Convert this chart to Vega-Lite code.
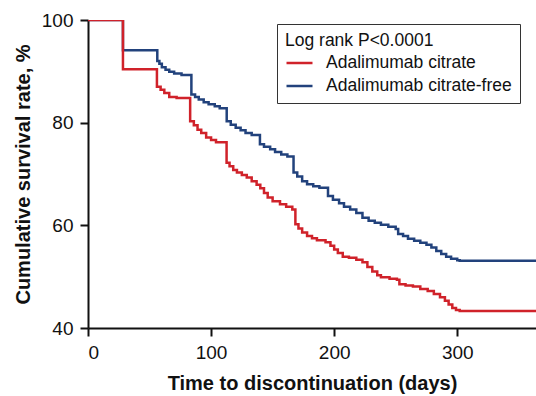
{
  "$schema": "https://vega.github.io/schema/vega-lite/v6.json",
  "width": 448,
  "height": 308,
  "autosize": {"type": "none"},
  "padding": {"left": 88, "top": 20, "right": 0, "bottom": 68},
  "background": "white",
  "config": {
    "view": {"stroke": null},
    "font": "Liberation Sans",
    "axis": {"grid": false, "domainColor": "#111", "domainWidth": 2, "tickColor": "#111", "tickWidth": 2, "tickSize": 8, "labelFont": "Liberation Sans", "labelFontSize": 19, "labelColor": "#111", "titleFont": "Liberation Sans", "titleFontSize": 20, "titleFontWeight": "bold", "titleColor": "#111"}
  },
  "data": {"values": [
    {"group": "Adalimumab citrate-free", "days": 0, "survival": 100},
    {"group": "Adalimumab citrate-free", "days": 28.4, "survival": 94.1},
    {"group": "Adalimumab citrate-free", "days": 56.3, "survival": 92.0},
    {"group": "Adalimumab citrate-free", "days": 58, "survival": 91.5},
    {"group": "Adalimumab citrate-free", "days": 60, "survival": 90.8},
    {"group": "Adalimumab citrate-free", "days": 63, "survival": 90.3},
    {"group": "Adalimumab citrate-free", "days": 66, "survival": 89.9},
    {"group": "Adalimumab citrate-free", "days": 70, "survival": 89.6},
    {"group": "Adalimumab citrate-free", "days": 76, "survival": 89.3},
    {"group": "Adalimumab citrate-free", "days": 84, "survival": 85.5},
    {"group": "Adalimumab citrate-free", "days": 87, "survival": 85.0},
    {"group": "Adalimumab citrate-free", "days": 90, "survival": 84.5},
    {"group": "Adalimumab citrate-free", "days": 94, "survival": 84.0},
    {"group": "Adalimumab citrate-free", "days": 98, "survival": 83.6},
    {"group": "Adalimumab citrate-free", "days": 103, "survival": 83.2},
    {"group": "Adalimumab citrate-free", "days": 107, "survival": 82.8},
    {"group": "Adalimumab citrate-free", "days": 112.7, "survival": 80.3},
    {"group": "Adalimumab citrate-free", "days": 116, "survival": 79.6},
    {"group": "Adalimumab citrate-free", "days": 120, "survival": 79.0},
    {"group": "Adalimumab citrate-free", "days": 124, "survival": 78.5},
    {"group": "Adalimumab citrate-free", "days": 128, "survival": 78.0},
    {"group": "Adalimumab citrate-free", "days": 133, "survival": 77.6},
    {"group": "Adalimumab citrate-free", "days": 139.7, "survival": 75.8},
    {"group": "Adalimumab citrate-free", "days": 143, "survival": 75.3},
    {"group": "Adalimumab citrate-free", "days": 148, "survival": 74.8},
    {"group": "Adalimumab citrate-free", "days": 152, "survival": 74.3},
    {"group": "Adalimumab citrate-free", "days": 157, "survival": 73.8},
    {"group": "Adalimumab citrate-free", "days": 162, "survival": 73.4},
    {"group": "Adalimumab citrate-free", "days": 167, "survival": 70.3},
    {"group": "Adalimumab citrate-free", "days": 170, "survival": 69.5},
    {"group": "Adalimumab citrate-free", "days": 174, "survival": 68.6},
    {"group": "Adalimumab citrate-free", "days": 178, "survival": 68.0},
    {"group": "Adalimumab citrate-free", "days": 183, "survival": 67.6},
    {"group": "Adalimumab citrate-free", "days": 188, "survival": 67.3},
    {"group": "Adalimumab citrate-free", "days": 195, "survival": 65.7},
    {"group": "Adalimumab citrate-free", "days": 199, "survival": 65.0},
    {"group": "Adalimumab citrate-free", "days": 204, "survival": 64.3},
    {"group": "Adalimumab citrate-free", "days": 208, "survival": 63.6},
    {"group": "Adalimumab citrate-free", "days": 213, "survival": 63.1},
    {"group": "Adalimumab citrate-free", "days": 218, "survival": 62.4},
    {"group": "Adalimumab citrate-free", "days": 223, "survival": 61.5},
    {"group": "Adalimumab citrate-free", "days": 228, "survival": 60.9},
    {"group": "Adalimumab citrate-free", "days": 233, "survival": 60.5},
    {"group": "Adalimumab citrate-free", "days": 238, "survival": 60.1},
    {"group": "Adalimumab citrate-free", "days": 244, "survival": 59.7},
    {"group": "Adalimumab citrate-free", "days": 250, "survival": 59.3},
    {"group": "Adalimumab citrate-free", "days": 252, "survival": 58.3},
    {"group": "Adalimumab citrate-free", "days": 256, "survival": 57.9},
    {"group": "Adalimumab citrate-free", "days": 260, "survival": 57.4},
    {"group": "Adalimumab citrate-free", "days": 265, "survival": 57.0},
    {"group": "Adalimumab citrate-free", "days": 270, "survival": 56.6},
    {"group": "Adalimumab citrate-free", "days": 275, "survival": 56.2},
    {"group": "Adalimumab citrate-free", "days": 279, "survival": 55.7},
    {"group": "Adalimumab citrate-free", "days": 283, "survival": 55.0},
    {"group": "Adalimumab citrate-free", "days": 287, "survival": 54.4},
    {"group": "Adalimumab citrate-free", "days": 291, "survival": 53.9},
    {"group": "Adalimumab citrate-free", "days": 295, "survival": 53.5},
    {"group": "Adalimumab citrate-free", "days": 300, "survival": 53.2},
    {"group": "Adalimumab citrate-free", "days": 302, "survival": 53.1},
    {"group": "Adalimumab citrate-free", "days": 365, "survival": 53.1},
    {"group": "Adalimumab citrate", "days": 0, "survival": 100},
    {"group": "Adalimumab citrate", "days": 28.4, "survival": 90.4},
    {"group": "Adalimumab citrate", "days": 56, "survival": 87.0},
    {"group": "Adalimumab citrate", "days": 59, "survival": 86.4},
    {"group": "Adalimumab citrate", "days": 62, "survival": 85.8},
    {"group": "Adalimumab citrate", "days": 66, "survival": 85.0},
    {"group": "Adalimumab citrate", "days": 72, "survival": 84.8},
    {"group": "Adalimumab citrate", "days": 83, "survival": 80.3},
    {"group": "Adalimumab citrate", "days": 86, "survival": 79.5},
    {"group": "Adalimumab citrate", "days": 89, "survival": 78.6},
    {"group": "Adalimumab citrate", "days": 92, "survival": 78.0},
    {"group": "Adalimumab citrate", "days": 96, "survival": 77.1},
    {"group": "Adalimumab citrate", "days": 100, "survival": 76.6},
    {"group": "Adalimumab citrate", "days": 104, "survival": 76.2},
    {"group": "Adalimumab citrate", "days": 112.6, "survival": 72.2},
    {"group": "Adalimumab citrate", "days": 115, "survival": 71.5},
    {"group": "Adalimumab citrate", "days": 118, "survival": 70.8},
    {"group": "Adalimumab citrate", "days": 121, "survival": 70.3},
    {"group": "Adalimumab citrate", "days": 125, "survival": 69.8},
    {"group": "Adalimumab citrate", "days": 129, "survival": 69.3},
    {"group": "Adalimumab citrate", "days": 133, "survival": 68.6},
    {"group": "Adalimumab citrate", "days": 137, "survival": 67.9},
    {"group": "Adalimumab citrate", "days": 140, "survival": 67.2},
    {"group": "Adalimumab citrate", "days": 143, "survival": 66.3},
    {"group": "Adalimumab citrate", "days": 146, "survival": 65.4},
    {"group": "Adalimumab citrate", "days": 150, "survival": 64.7},
    {"group": "Adalimumab citrate", "days": 156, "survival": 64.1},
    {"group": "Adalimumab citrate", "days": 161, "survival": 63.6},
    {"group": "Adalimumab citrate", "days": 166, "survival": 63.1},
    {"group": "Adalimumab citrate", "days": 168.5, "survival": 60.2},
    {"group": "Adalimumab citrate", "days": 171, "survival": 59.4},
    {"group": "Adalimumab citrate", "days": 174, "survival": 58.6},
    {"group": "Adalimumab citrate", "days": 178, "survival": 57.9},
    {"group": "Adalimumab citrate", "days": 182, "survival": 57.5},
    {"group": "Adalimumab citrate", "days": 186, "survival": 57.1},
    {"group": "Adalimumab citrate", "days": 193, "survival": 56.7},
    {"group": "Adalimumab citrate", "days": 197, "survival": 56.0},
    {"group": "Adalimumab citrate", "days": 200, "survival": 55.3},
    {"group": "Adalimumab citrate", "days": 203, "survival": 54.6},
    {"group": "Adalimumab citrate", "days": 207, "survival": 53.9},
    {"group": "Adalimumab citrate", "days": 212, "survival": 53.7},
    {"group": "Adalimumab citrate", "days": 218, "survival": 53.3},
    {"group": "Adalimumab citrate", "days": 223, "survival": 52.8},
    {"group": "Adalimumab citrate", "days": 227, "survival": 51.9},
    {"group": "Adalimumab citrate", "days": 231, "survival": 51.0},
    {"group": "Adalimumab citrate", "days": 235, "survival": 50.3},
    {"group": "Adalimumab citrate", "days": 238, "survival": 49.9},
    {"group": "Adalimumab citrate", "days": 245, "survival": 49.6},
    {"group": "Adalimumab citrate", "days": 251, "survival": 49.4},
    {"group": "Adalimumab citrate", "days": 253, "survival": 48.5},
    {"group": "Adalimumab citrate", "days": 258, "survival": 48.3},
    {"group": "Adalimumab citrate", "days": 264, "survival": 48.1},
    {"group": "Adalimumab citrate", "days": 270, "survival": 47.6},
    {"group": "Adalimumab citrate", "days": 276, "survival": 47.2},
    {"group": "Adalimumab citrate", "days": 281, "survival": 46.6},
    {"group": "Adalimumab citrate", "days": 286, "survival": 46.0},
    {"group": "Adalimumab citrate", "days": 290, "survival": 45.3},
    {"group": "Adalimumab citrate", "days": 293, "survival": 44.6},
    {"group": "Adalimumab citrate", "days": 296, "survival": 43.9},
    {"group": "Adalimumab citrate", "days": 299, "survival": 43.5},
    {"group": "Adalimumab citrate", "days": 302, "survival": 43.3},
    {"group": "Adalimumab citrate", "days": 365, "survival": 43.3}
  ]},
  "mark": {"type": "line", "interpolate": "step-after", "strokeWidth": 2.5, "clip": true},
  "encoding": {
    "x": {"field": "days", "type": "quantitative", "scale": {"domain": [0, 364], "nice": false, "zero": false},
      "axis": {"values": [0, 100, 200, 300], "title": "Time to discontinuation (days)", "labelPadding": 7, "titlePadding": 11}},
    "y": {"field": "survival", "type": "quantitative", "scale": {"domain": [40, 100], "nice": false, "zero": false},
      "axis": {"values": [40, 60, 80, 100], "title": "Cumulative survival rate, %", "labelPadding": 7, "titlePadding": 8}},
    "color": {"field": "group", "type": "nominal",
      "scale": {"domain": ["Adalimumab citrate", "Adalimumab citrate-free"], "range": ["#d0222a", "#22427c"]},
      "legend": {"title": "Log rank P<0.0001", "orient": "none", "legendX": 189, "legendY": 4,
        "strokeColor": "#333", "padding": 8, "titleFontSize": 17.5, "titleFontWeight": "normal", "titleColor": "#111", "titleFont": "Liberation Sans", "titlePadding": -1, "titleLimit": 400,
        "labelFontSize": 17.5, "labelColor": "#111", "labelFont": "Liberation Sans", "labelLimit": 400, "symbolType": "stroke", "symbolSize": 676, "symbolStrokeWidth": 2.5, "rowPadding": -8, "labelOffset": 12}}
  }
}
